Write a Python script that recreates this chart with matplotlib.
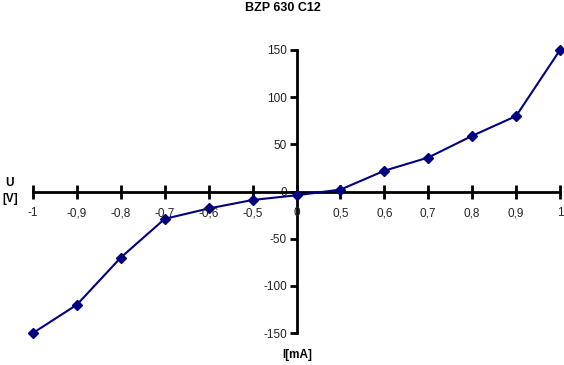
import matplotlib
matplotlib.use("Agg")
import matplotlib.pyplot as plt

categories = ["-1", "-0,9", "-0,8", "-0,7", "-0,6", "-0,5", "0", "0,5", "0,6", "0,7", "0,8", "0,9", "1"]
voltage = [-150, -120, -70, -29, -18, -9, -4, 2, 22, 36, 59, 80, 150]
y_ticks = [-150, -100, -50, 0, 50, 100, 150]

plt.rcParams['font.family'] = ['Liberation Sans', 'DejaVu Sans']
W, H = 564, 365
fig = plt.figure(figsize=(W/100, H/100), dpi=100)
ax = fig.add_axes([33/W, (H-333)/H, (560-33)/W, (333-50)/H])

x = list(range(len(categories)))
ax.plot(x, voltage, color='#000080', lw=1.5, marker='D', markersize=5,
        markerfacecolor='#000080', markeredgecolor='#000080', zorder=3, clip_on=False)

ax.set_xlim(0, len(categories)-1)
ax.set_ylim(-150, 150)

for s in ['top', 'right']:
    ax.spines[s].set_visible(False)
ax.spines['left'].set_position(('data', 6))
ax.spines['bottom'].set_position(('data', 0))
ax.spines['left'].set_linewidth(2)
ax.spines['bottom'].set_linewidth(2)
ax.spines['left'].set_zorder(2)
ax.spines['bottom'].set_zorder(2)

ax.set_xticks(x)
ax.set_xticklabels([])
ax.tick_params(axis='x', direction='inout', length=10, width=2)
for xi, lab in zip(x, categories):
    ax.annotate(lab, xy=(xi, 0), xytext=(0, -11.5), textcoords='offset points',
                ha='center', va='top', fontsize=8.5, color='#222222')

ax.set_yticks(y_ticks)
ax.set_yticklabels([str(v) for v in y_ticks], fontsize=8.5, color='#222222')
ax.tick_params(axis='y', direction='out', length=5, width=2, pad=2)

fig.text(283/W, 1-8/H, "BZP 630 C12", ha='center', va='center', fontsize=9, fontweight='bold')
fig.text(10/W, 1-183/H, "U", ha='center', va='center', fontsize=8.5, fontweight='bold')
fig.text(10/W, 1-199/H, "[V]", ha='center', va='center', fontsize=8.5, fontweight='bold')
fig.text(297/W, 1-355/H, "I[mA]", ha='center', va='center', fontsize=8.5, fontweight='bold')

fig.savefig("out.png", dpi=100)
